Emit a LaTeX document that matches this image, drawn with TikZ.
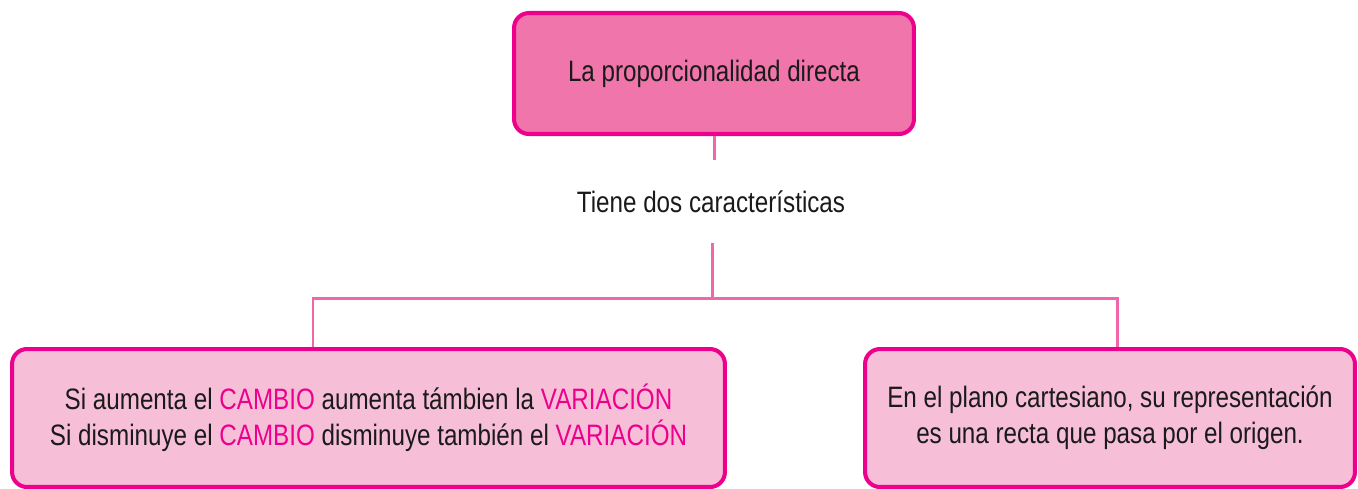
\documentclass[tikz,border=0pt]{standalone}
\usepackage{fontspec}
\setmainfont{Liberation Sans}[FakeStretch=0.82]
\usetikzlibrary{positioning}

\definecolor{borde}{HTML}{EC008C}
\definecolor{rosa}{HTML}{F075AA}
\definecolor{rosaclaro}{HTML}{F7BED8}
\definecolor{linea}{HTML}{F066A8}
\definecolor{texto}{HTML}{1A1A1A}

\newcommand{\resalta}[1]{\textcolor{borde}{#1}}

\tikzset{
    caja/.style={draw=borde, line width=2.3pt, rounded corners=8.5pt,
        align=center, text=texto, inner sep=0pt},
    conector/.style={draw=linea, line width=1.7pt},
}

\begin{document}
\begin{tikzpicture}[x=0.02cm, y=-0.02cm,
    font=\fontsize{16.8}{20.6}\selectfont]

\useasboundingbox (0,0) rectangle (1358,488);

% ═══════════════════════════════════════════════════════
% CONCEPTO PRINCIPAL
% ═══════════════════════════════════════════════════════

\node[caja, fill=rosa, minimum width=8cm, minimum height=2.42cm]
    (titulo) at (714,73.5) {La proporcionalidad directa};

% Texto intermedio
\node[text=texto, inner sep=0pt, minimum height=1.66cm]
    (carac) at (711,201.5) {Tiene dos características};

% ═══════════════════════════════════════════════════════
% CARACTERÍSTICAS
% ═══════════════════════════════════════════════════════

\node[caja, fill=rosaclaro, minimum width=14.26cm, minimum height=2.76cm]
    (izq) at (368.5,418) {
    Si aumenta el \resalta{CAMBIO} aumenta támbien la \resalta{VARIACIÓN}\\
    Si disminuye el \resalta{CAMBIO} disminuye también el \resalta{VARIACIÓN}};

\node[caja, fill=rosaclaro, minimum width=9.8cm, minimum height=2.76cm]
    (der) at (1110,418) {
    En el plano cartesiano, su representación\\
    es una recta que pasa por el origen.};

% ═══════════════════════════════════════════════════════
% CONECTORES
% ═══════════════════════════════════════════════════════

\coordinate (rama) at (712,298);
\coordinate (ramaizq) at (313,298);
\coordinate (ramader) at (1117,298);

\draw[conector] (titulo.south) -- (titulo.south |- carac.north);
\draw[conector] (rama |- carac.south) -- (rama);
\draw[conector] (ramaizq |- izq.north) -- (ramaizq) -- (ramader)
    -- (ramader |- der.north);

\end{tikzpicture}
\end{document}
